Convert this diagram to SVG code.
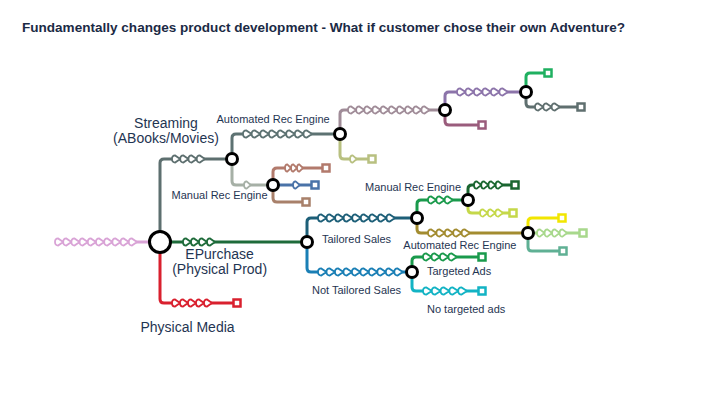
<svg xmlns="http://www.w3.org/2000/svg" xmlns:xlink="http://www.w3.org/1999/xlink" width="720" height="405" viewBox="0 0 720 405">
<defs>
<style>
.ln{fill:none;stroke-width:3;stroke-linejoin:round}
.ch use{fill:#fff;stroke-width:1.8}
.nd{fill:#fff;stroke:#000;stroke-width:3}
.sq{fill:#fff;stroke-width:2.5}
.lb{font-family:"Liberation Sans",Arial,sans-serif;fill:#1f3552}
.big{font-size:14px}
.sm{font-size:11px}
.title{font-family:"Liberation Sans",Arial,sans-serif;font-weight:bold;font-size:13.5px;fill:#1b2a45}
</style>
<path id="u" vector-effect="non-scaling-stroke" d="M0,0 C0,-2.5 1.4,-3.6 3,-3.6 L8,0 L3,3.6 C1.4,3.6 0,2.5 0,0Z"/>
</defs>
<rect width="720" height="405" fill="#fff"/>
<text class="title" x="22" y="32" textLength="603" lengthAdjust="spacingAndGlyphs">Fundamentally changes product development - What if customer chose their own Adventure?</text>

<g id="connectors">
<path class="ln" stroke="#d9a3d6" d="M55,242 H150"/>
<path class="ln" stroke="#5d6f6f" d="M160,232 V163 Q160,159 164,159 H227"/>
<path class="ln" stroke="#d9202e" d="M160,252 V299 Q160,303 164,303 H233"/>
<path class="ln" stroke="#1e6b3a" d="M170,242 H301"/>
<path class="ln" stroke="#5d7272" d="M232,153 V138 Q232,134 236,134 H335"/>
<path class="ln" stroke="#a6b0a6" d="M232,165 V181 Q232,185 236,185 H268"/>
<path class="ln" stroke="#b27a6c" d="M273,179.5 V172 Q273,168 277,168 H322"/>
<path class="ln" stroke="#4a73a8" d="M278.5,185 H311"/>
<path class="ln" stroke="#a8806a" d="M273,190.5 V198 Q273,202 277,202 H302"/>
<path class="ln" stroke="#a08c98" d="M340,128.5 V114 Q340,110 344,110 H439.5"/>
<path class="ln" stroke="#b8c080" d="M340,139.5 V155 Q340,159 344,159 H368"/>
<path class="ln" stroke="#8c74aa" d="M445,104.5 V96 Q445,92 449,92 H520.5"/>
<path class="ln" stroke="#9a5c7c" d="M445,115.5 V121 Q445,125 449,125 H478"/>
<path class="ln" stroke="#1fb060" d="M526,86.5 V77 Q526,73 530,73 H544"/>
<path class="ln" stroke="#5f6f6f" d="M526,97.5 V103 Q526,107 530,107 H577"/>
<path class="ln" stroke="#1d5f78" d="M307,236.5 V222 Q307,218 311,218 H411.5"/>
<path class="ln" stroke="#1a7fb5" d="M307,247.5 V268 Q307,272 311,272 H406.5"/>
<path class="ln" stroke="#1a9a4c" d="M417,212.5 V204 Q417,200 421,200 H462.5"/>
<path class="ln" stroke="#a38c30" d="M417,223.5 V229 Q417,233 421,233 H522.5"/>
<path class="ln" stroke="#1a6630" d="M468,194.5 V189 Q468,185 472,185 H511"/>
<path class="ln" stroke="#c5d84a" d="M468,205.5 V209 Q468,213 472,213 H509"/>
<path class="ln" stroke="#f2e600" d="M528,227.5 V222 Q528,218 532,218 H558"/>
<path class="ln" stroke="#a8d88c" d="M533.5,233 H579"/>
<path class="ln" stroke="#5fb094" d="M528,238.5 V247 Q528,251 532,251 H559"/>
<path class="ln" stroke="#1a9a4c" d="M412,266.5 V261 Q412,257 416,257 H478"/>
<path class="ln" stroke="#12b3c4" d="M412,277.5 V287 Q412,291 416,291 H478"/>

<g class="ch" stroke="#d9a3d6" transform="translate(55,242) scale(1.025,1)"><use href="#u" x="0"/><use href="#u" x="8"/><use href="#u" x="16"/><use href="#u" x="24"/><use href="#u" x="32"/><use href="#u" x="40"/><use href="#u" x="48"/><use href="#u" x="56"/><use href="#u" x="64"/><use href="#u" x="72"/></g>
<g class="ch" stroke="#5d6f6f" transform="translate(172,159) scale(1.03,1)"><use href="#u" x="0"/><use href="#u" x="8"/><use href="#u" x="16"/><use href="#u" x="24"/></g>
<g class="ch" stroke="#d9202e" transform="translate(172,303)"><use href="#u" x="0"/><use href="#u" x="8"/><use href="#u" x="16"/><use href="#u" x="24"/><use href="#u" x="32"/></g>
<g class="ch" stroke="#1e6b3a" transform="translate(183,242)"><use href="#u" x="0"/><use href="#u" x="8"/><use href="#u" x="16"/><use href="#u" x="24"/></g>
<g class="ch" stroke="#5d7272" transform="translate(243,134) scale(1.08,1)"><use href="#u" x="0"/><use href="#u" x="8"/><use href="#u" x="16"/><use href="#u" x="24"/><use href="#u" x="32"/><use href="#u" x="40"/><use href="#u" x="48"/><use href="#u" x="56"/></g>
<g class="ch" stroke="#a6b0a6" transform="translate(244,185) scale(0.85,1)"><use href="#u" x="0"/></g>
<g class="ch" stroke="#b27a6c" transform="translate(285,168) scale(0.75,1)"><use href="#u" x="0"/><use href="#u" x="8"/><use href="#u" x="16"/></g>
<g class="ch" stroke="#4a73a8" transform="translate(293,185) scale(0.85,1)"><use href="#u" x="0"/></g>
<g class="ch" stroke="#b8c080" transform="translate(350,159) scale(0.85,1)"><use href="#u" x="0"/></g>
<g class="ch" stroke="#a08c98" transform="translate(348,110) scale(1.02,1)"><use href="#u" x="0"/><use href="#u" x="8"/><use href="#u" x="16"/><use href="#u" x="24"/><use href="#u" x="32"/><use href="#u" x="40"/><use href="#u" x="48"/><use href="#u" x="56"/><use href="#u" x="64"/><use href="#u" x="72"/></g>
<g class="ch" stroke="#8c74aa" transform="translate(457,92) scale(1.06,1)"><use href="#u" x="0"/><use href="#u" x="8"/><use href="#u" x="16"/><use href="#u" x="24"/><use href="#u" x="32"/><use href="#u" x="40"/></g>
<g class="ch" stroke="#5f6f6f" transform="translate(535,107) scale(1.04,1)"><use href="#u" x="0"/><use href="#u" x="8"/><use href="#u" x="16"/></g>
<g class="ch" stroke="#1d5f78" transform="translate(318,218) scale(1.07,1)"><use href="#u" x="0"/><use href="#u" x="8"/><use href="#u" x="16"/><use href="#u" x="24"/><use href="#u" x="32"/><use href="#u" x="40"/><use href="#u" x="48"/><use href="#u" x="56"/><use href="#u" x="64"/></g>
<g class="ch" stroke="#1a7fb5" transform="translate(318,272) scale(1.06,1)"><use href="#u" x="0"/><use href="#u" x="8"/><use href="#u" x="16"/><use href="#u" x="24"/><use href="#u" x="32"/><use href="#u" x="40"/><use href="#u" x="48"/><use href="#u" x="56"/><use href="#u" x="64"/><use href="#u" x="72"/></g>
<g class="ch" stroke="#1a9a4c" transform="translate(428,200) scale(1.04,1)"><use href="#u" x="0"/><use href="#u" x="8"/><use href="#u" x="16"/></g>
<g class="ch" stroke="#a38c30" transform="translate(428,233) scale(1.05,1)"><use href="#u" x="0"/><use href="#u" x="8"/><use href="#u" x="16"/><use href="#u" x="24"/><use href="#u" x="32"/></g>
<g class="ch" stroke="#1a6630" transform="translate(474,185) scale(0.9,1)"><use href="#u" x="0"/><use href="#u" x="8"/><use href="#u" x="16"/><use href="#u" x="24"/></g>
<g class="ch" stroke="#c5d84a" transform="translate(480,213) scale(0.96,1)"><use href="#u" x="0"/><use href="#u" x="8"/><use href="#u" x="16"/></g>
<g class="ch" stroke="#a8d88c" transform="translate(537,233) scale(0.94,1)"><use href="#u" x="0"/><use href="#u" x="8"/><use href="#u" x="16"/><use href="#u" x="24"/></g>
<g class="ch" stroke="#1a9a4c" transform="translate(423,257) scale(1.06,1)"><use href="#u" x="0"/><use href="#u" x="8"/><use href="#u" x="16"/><use href="#u" x="24"/></g>
<g class="ch" stroke="#12b3c4" transform="translate(423,291) scale(1.1,1)"><use href="#u" x="0"/><use href="#u" x="8"/><use href="#u" x="16"/><use href="#u" x="24"/><use href="#u" x="32"/></g>
</g>

<g id="node-root"><circle class="nd" cx="160" cy="242" r="10.5"/></g>
<g id="node-streaming"><circle class="nd" cx="232" cy="159" r="5.5"/></g>
<g id="node-auto-rec"><circle class="nd" cx="340" cy="134" r="5.5"/></g>
<g id="node-manual-rec"><circle class="nd" cx="273" cy="185" r="5.5"/></g>
<g id="node-n2"><circle class="nd" cx="445" cy="110" r="5.5"/></g>
<g id="node-n3"><circle class="nd" cx="526" cy="92" r="5.5"/></g>
<g id="node-epurchase"><circle class="nd" cx="307" cy="242" r="5.5"/></g>
<g id="node-tailored"><circle class="nd" cx="417" cy="218" r="5.5"/></g>
<g id="node-not-tailored"><circle class="nd" cx="412" cy="272" r="5.5"/></g>
<g id="node-manual-rec2"><circle class="nd" cx="468" cy="200" r="5.5"/></g>
<g id="node-auto-rec2"><circle class="nd" cx="528" cy="233" r="5.5"/></g>

<g id="end-physical"><rect class="sq" stroke="#d9202e" x="233.5" y="299.5" width="7" height="7"/></g>
<g id="end-rose"><rect class="sq" stroke="#b27a6c" x="322.5" y="164.5" width="7" height="7"/></g>
<g id="end-blue"><rect class="sq" stroke="#4a73a8" x="311.5" y="181.5" width="7" height="7"/></g>
<g id="end-brown"><rect class="sq" stroke="#a8806a" x="302.5" y="198.5" width="7" height="7"/></g>
<g id="end-olive"><rect class="sq" stroke="#b8c080" x="368.5" y="155.5" width="7" height="7"/></g>
<g id="end-plum"><rect class="sq" stroke="#9a5c7c" x="478.5" y="121.5" width="7" height="7"/></g>
<g id="end-green-top"><rect class="sq" stroke="#1fb060" x="544.5" y="69.5" width="7" height="7"/></g>
<g id="end-gray"><rect class="sq" stroke="#5f6f6f" x="577.5" y="103.5" width="7" height="7"/></g>
<g id="end-darkgreen"><rect class="sq" stroke="#1a6630" x="511.5" y="181.5" width="7" height="7"/></g>
<g id="end-yellowgreen"><rect class="sq" stroke="#c5d84a" x="509.5" y="209.5" width="7" height="7"/></g>
<g id="end-yellow"><rect class="sq" stroke="#f2e600" x="558.5" y="214.5" width="7" height="7"/></g>
<g id="end-lightgreen"><rect class="sq" stroke="#a8d88c" x="579.5" y="229.5" width="7" height="7"/></g>
<g id="end-teal"><rect class="sq" stroke="#5fb094" x="559.5" y="247.5" width="7" height="7"/></g>
<g id="end-targeted"><rect class="sq" stroke="#1a9a4c" x="478.5" y="253.5" width="7" height="7"/></g>
<g id="end-no-targeted"><rect class="sq" stroke="#12b3c4" x="478.5" y="287.5" width="7" height="7"/></g>

<g id="labels">
<text class="lb big" x="166" y="128" text-anchor="middle">Streaming</text>
<text class="lb big" x="166" y="143" text-anchor="middle">(ABooks/Movies)</text>
<text class="lb big" x="219.6" y="259" text-anchor="middle">EPurchase</text>
<text class="lb big" x="219.6" y="274" text-anchor="middle">(Physical Prod)</text>
<text class="lb big" x="187.5" y="332" text-anchor="middle">Physical Media</text>
<text class="lb sm" x="216.5" y="123">Automated Rec Engine</text>
<text class="lb sm" x="171.5" y="198.5">Manual Rec Engine</text>
<text class="lb sm" x="322" y="242.5">Tailored Sales</text>
<text class="lb sm" x="312" y="293.5">Not Tailored Sales</text>
<text class="lb sm" x="365" y="191">Manual Rec Engine</text>
<text class="lb sm" x="403.3" y="248.5">Automated Rec Engine</text>
<text class="lb sm" x="427" y="275">Targeted Ads</text>
<text class="lb sm" x="427" y="313">No targeted ads</text>
</g>
</svg>
